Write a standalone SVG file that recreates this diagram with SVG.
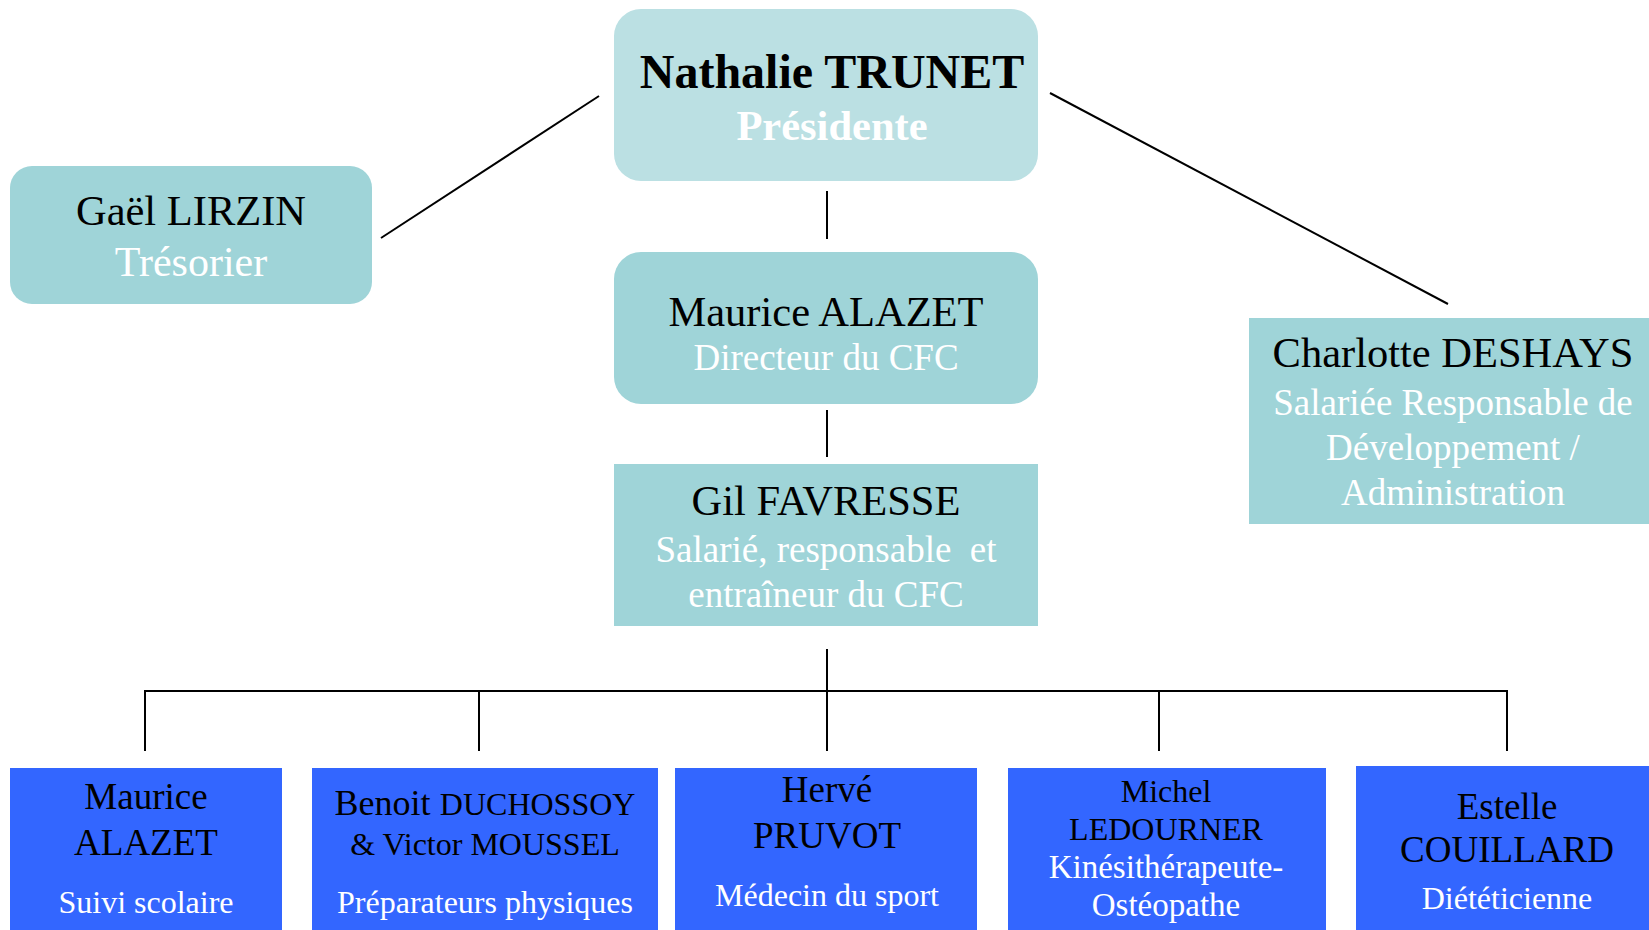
<svg xmlns="http://www.w3.org/2000/svg" width="1649" height="930" viewBox="0 0 1649 930">
<style>
text{font-family:"Liberation Serif","Times New Roman",serif;text-anchor:middle}
.teal{fill:#9FD4D8}
.light{fill:#BBE0E3}
.blue{fill:#3366FF}
.nm{fill:#000;font-size:42.5px}
.sub{fill:#fff;font-size:37px}
.bn{fill:#000;font-size:37px}
.bs{fill:#fff;font-size:32px}
.conn line{stroke:#000;stroke-width:2}
</style>
<rect width="1649" height="930" fill="#fff"/>
<g class="conn" id="connectors">
<line x1="381" y1="238" x2="599" y2="96"/>
<line x1="1050" y1="93" x2="1448" y2="304"/>
<line x1="827" y1="191" x2="827" y2="239"/>
<line x1="827" y1="410" x2="827" y2="457"/>
<line x1="827" y1="649" x2="827" y2="751"/>
<line x1="145" y1="691" x2="1507" y2="691"/>
<line x1="145" y1="690" x2="145" y2="751"/>
<line x1="479" y1="691" x2="479" y2="751"/>
<line x1="1159" y1="691" x2="1159" y2="751"/>
<line x1="1507" y1="690" x2="1507" y2="751"/>
</g>
<g id="nathalie">
<rect class="light" x="614" y="9" width="424" height="172" rx="27"/>
<text x="832" y="88" style="font-size:48px;font-weight:bold">Nathalie TRUNET</text>
<text x="832" y="140" style="font-size:42.5px;font-weight:bold;fill:#fff">Présidente</text>
</g>
<g id="gael">
<rect class="teal" x="10" y="166" width="362" height="138" rx="22"/>
<text class="nm" x="191" y="225">Gaël LIRZIN</text>
<text class="sub" x="191" y="276" style="font-size:42px">Trésorier</text>
</g>
<g id="maurice-directeur">
<rect class="teal" x="614" y="252" width="424" height="152" rx="27"/>
<text class="nm" x="826" y="326">Maurice ALAZET</text>
<text class="sub" x="826" y="370">Directeur du CFC</text>
</g>
<g id="gil">
<rect class="teal" x="614" y="464" width="424" height="162"/>
<text class="nm" x="826" y="515">Gil FAVRESSE</text>
<text class="sub" x="826" y="562" xml:space="preserve">Salarié, responsable  et</text>
<text class="sub" x="826" y="607">entraîneur du CFC</text>
</g>
<g id="charlotte">
<rect class="teal" x="1249" y="318" width="400" height="206"/>
<text class="nm" x="1453" y="367">Charlotte DESHAYS</text>
<text class="sub" x="1453" y="415">Salariée Responsable de</text>
<text class="sub" x="1453" y="460">Développement /</text>
<text class="sub" x="1453" y="505">Administration</text>
</g>
<g id="maurice-scolaire">
<rect class="blue" x="10" y="768" width="272" height="162"/>
<text class="bn" x="146" y="809">Maurice</text>
<text class="bn" x="146" y="855">ALAZET</text>
<text class="bs" x="146" y="913">Suivi scolaire</text>
</g>
<g id="preparateurs">
<rect class="blue" x="312" y="768" width="346" height="162"/>
<text class="bn" x="485" y="815"><tspan style="font-size:36px">Benoit</tspan> <tspan style="font-size:32px">DUCHOSSOY</tspan></text>
<text class="bn" x="485" y="855" style="font-size:32px">&amp; Victor MOUSSEL</text>
<text class="bs" x="485" y="913">Préparateurs physiques</text>
</g>
<g id="herve">
<rect class="blue" x="675" y="768" width="302" height="162"/>
<text class="bn" x="827" y="802">Hervé</text>
<text class="bn" x="827" y="848">PRUVOT</text>
<text class="bs" x="827" y="906">Médecin du sport</text>
</g>
<g id="michel">
<rect class="blue" x="1008" y="768" width="318" height="162"/>
<text class="bn" x="1166" y="802" style="font-size:32px">Michel</text>
<text class="bn" x="1166" y="840" style="font-size:32px">LEDOURNER</text>
<text class="bs" x="1166" y="878" style="font-size:33px">Kinésithérapeute-</text>
<text class="bs" x="1166" y="916" style="font-size:33px">Ostéopathe</text>
</g>
<g id="estelle">
<rect class="blue" x="1356" y="766" width="293" height="164"/>
<text class="bn" x="1507" y="819">Estelle</text>
<text class="bn" x="1507" y="862">COUILLARD</text>
<text class="bs" x="1507" y="909">Diététicienne</text>
</g>
</svg>
